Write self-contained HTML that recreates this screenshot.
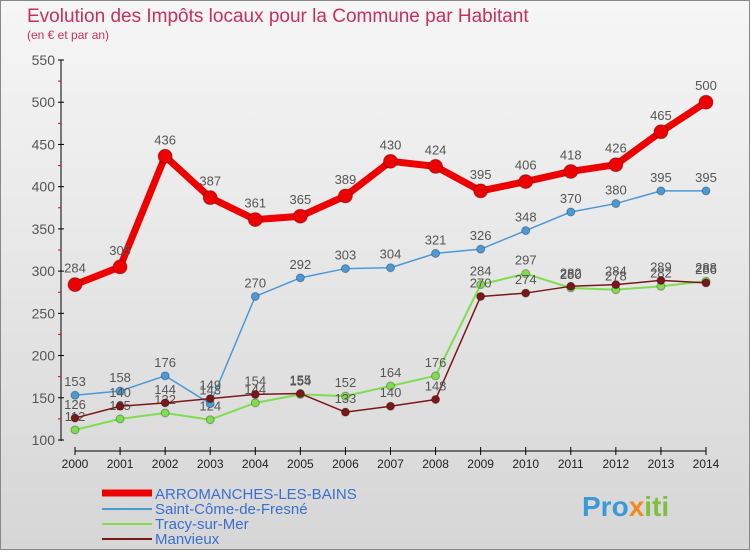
<!DOCTYPE html>
<html><head><meta charset="utf-8"><style>
body{margin:0;width:750px;height:550px;overflow:hidden;font-family:"Liberation Sans",sans-serif}
</style></head><body>
<svg width="750" height="550">
<defs><linearGradient id="bg" x1="0" y1="0" x2="0" y2="1"><stop offset="0" stop-color="#f6f6f6"/><stop offset="1" stop-color="#d6d6d6"/></linearGradient></defs>
<rect x="0.5" y="0.5" width="749" height="549" fill="url(#bg)" stroke="#888"/>
<text x="27" y="22" font-size="19" fill="#c8305a">Evolution des Impôts locaux pour la Commune par Habitant</text>
<text x="27" y="39" font-size="12" fill="#c8305a">(en € et par an)</text>
<g id="axes"></g><g id="series"></g>
<g>
<line x1="102" y1="493" x2="152" y2="493" stroke="#e00" stroke-width="7"/>
<text x="155" y="499" font-size="15" fill="#3a6fd0">ARROMANCHES-LES-BAINS</text>
<line x1="102" y1="509" x2="152" y2="509" stroke="#4a9ad8" stroke-width="2"/>
<text x="155" y="514" font-size="15" fill="#3a6fd0">Saint-Côme-de-Fresné</text>
<line x1="102" y1="524" x2="152" y2="524" stroke="#80dd50" stroke-width="2"/>
<text x="155" y="529" font-size="15" fill="#3a6fd0">Tracy-sur-Mer</text>
<line x1="102" y1="539" x2="152" y2="539" stroke="#7a1818" stroke-width="2"/>
<text x="155" y="544" font-size="15" fill="#3a6fd0">Manvieux</text>
</g>
<text x="582" y="516" font-size="28" font-weight="bold" fill="#3a9ad8">Pro<tspan fill="#f08a20">x</tspan><tspan fill="#80c040">iti</tspan></text>
</svg>
<script>
const years=[2000,2001,2002,2003,2004,2005,2006,2007,2008,2009,2010,2011,2012,2013,2014];
const yTicks=[100,150,200,250,300,350,400,450,500,550];
const arromanches=[284,305,436,387,361,365,389,430,424,395,406,418,426,465,500];
const saintCome=[153,158,176,143,270,292,303,304,321,326,348,370,380,395,395];
const tracy=[112,125,132,124,144,154,152,164,176,284,297,280,278,282,288];
const manvieux=[126,140,144,149,154,155,133,140,148,270,274,282,284,289,286];
const NS='http://www.w3.org/2000/svg';
const X=i=>75+i*(631/14), Y=v=>440-(v-100)*(380/450);
function mk(t,a,p){const e=document.createElementNS(NS,t);for(const k in a)e.setAttribute(k,a[k]);p.appendChild(e);return e;}
const ax=document.getElementById('axes');
mk('line',{x1:61,y1:60,x2:61,y2:441,stroke:'#000'},ax);
mk('line',{x1:75,y1:451,x2:706,y2:451,stroke:'#000'},ax);
yTicks.forEach(v=>{mk('line',{x1:58,y1:Y(v),x2:64,y2:Y(v),stroke:'#000'},ax);
 if(v<550)mk('line',{x1:58,y1:Y(v+25),x2:61,y2:Y(v+25),stroke:'#e00'},ax);
 const t=mk('text',{x:55,y:Y(v)+5,'font-size':14,fill:'#555','text-anchor':'end'},ax);t.textContent=v;
 
 });
years.forEach((y,i)=>{mk('line',{x1:X(i),y1:447,x2:X(i),y2:455,stroke:'#000'},ax);
 const t=mk('text',{x:X(i),y:468,'font-size':12,fill:'#222','text-anchor':'middle'},ax);t.textContent=y;
 
 });
const sg=document.getElementById('series');
function draw(d,col,w,r,name){
 const g=mk('g',{},sg);
 
 
 mk('polyline',{points:d.map((v,i)=>X(i)+','+Y(v)).join(' '),fill:'none',stroke:col,'stroke-width':w,'stroke-linejoin':'round'},g);
 d.forEach((v,i)=>{const c=mk('circle',{cx:X(i),cy:Y(v),r:r,fill:col,stroke:'rgba(0,0,0,0.3)'},g);
  
  
  const t=mk('text',{x:X(i),y:Y(v)-r-5,'font-size':13,fill:'#555','text-anchor':'middle'},g);t.textContent=v;
  
  });
}
draw(tracy,'#80dd50',2,4,'tracy-series');
draw(saintCome,'#4a9ad8',1.5,4,'saint-come-series');
draw(manvieux,'#7a1818',1.5,4,'manvieux-series');
draw(arromanches,'#ee0000',7,7,'arromanches-series');
</script>
</body></html>
